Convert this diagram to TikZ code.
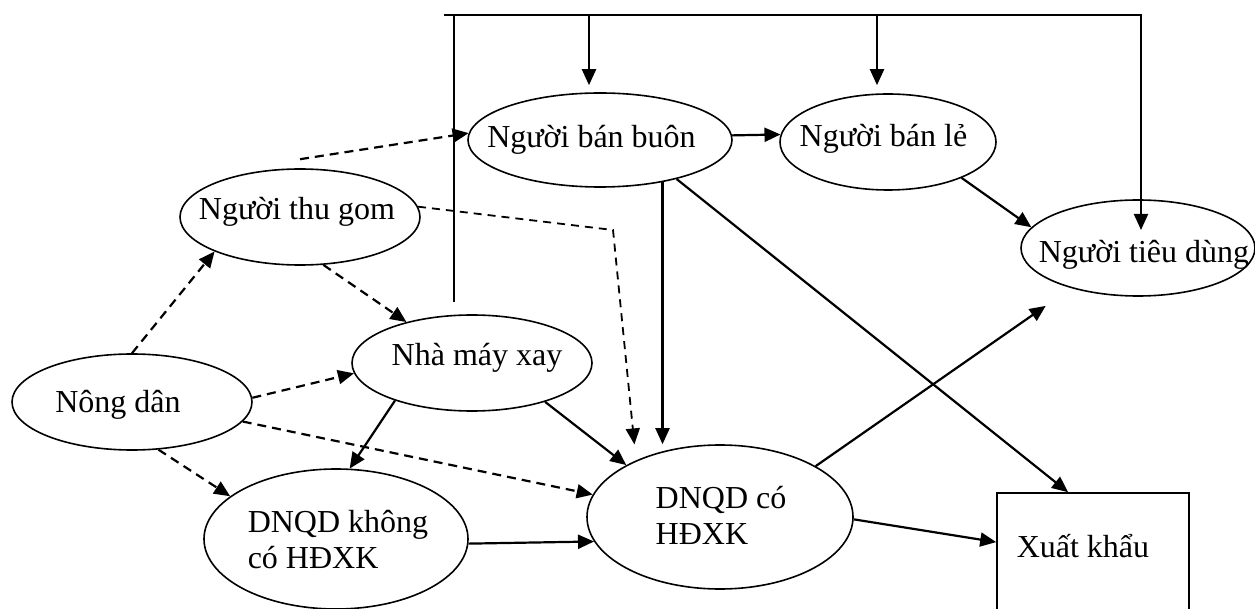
\documentclass[tikz,border=0pt]{standalone}
\usepackage{fontspec}
\setmainfont{Liberation Serif}
\usetikzlibrary{shapes.geometric,arrows.meta}
\newcommand\mytxt[3]{\makebox[0pt]{\hspace*{#1}\raisebox{#2}{#3}}}
\begin{document}
\begin{tikzpicture}[x=1pt,y=-1pt,
  every node/.style={font=\fontsize{32}{36.5}\selectfont, inner sep=0pt, text height=22pt, text depth=7pt},
  ell/.style={ellipse, draw, line width=1.6pt},
  mybox/.style={rectangle, draw, line width=1.6pt},
  arr/.style={-{Triangle[length=16pt,width=14pt]}},
  sol/.style={arr, line width=2.2pt},
  dsh/.style={arr, line width=2.2pt, dash pattern=on 9pt off 6pt},
  dshthin/.style={arr, line width=1.8pt, dash pattern=on 8pt off 6pt},
  myframe/.style={line width=2pt}]

\useasboundingbox (0,0) rectangle (1255,609);

% nodes
\node[ell, minimum width=240pt, minimum height=96pt] (nd) at (132,402) {\mytxt{-28pt}{-2.5pt}{Nông dân}};
\node[ell, minimum width=240pt, minimum height=96pt] (tg) at (300,217) {\mytxt{-6pt}{4.5pt}{Người thu gom}};
\node[ell, minimum width=240pt, minimum height=96pt] (nm) at (472,363) {\mytxt{10pt}{5.5pt}{Nhà máy xay}};
\node[ell, minimum width=264pt, minimum height=94pt] (bb) at (600,140) {\mytxt{-17pt}{-0.5pt}{Người bán buôn}};
\node[ell, minimum width=216pt, minimum height=96pt] (bl) at (888,142) {\mytxt{-9pt}{2.5pt}{Người bán lẻ}};
\node[ell, minimum width=234pt, minimum height=96pt] (td) at (1138,248) {\mytxt{12pt}{-7.5pt}{Người tiêu dùng}};
\node[ell, minimum width=264pt, minimum height=140pt] (k) at (336,539) {\mytxt{4pt}{14.5pt}{\begin{tabular}[t]{@{}l@{}}DNQD không\\có HĐXK\end{tabular}}};
\node[ell, minimum width=266pt, minimum height=144pt] (c) at (720,517) {\mytxt{2pt}{16.5pt}{\begin{tabular}[t]{@{}l@{}}DNQD có\\HĐXK\end{tabular}}};
\node[mybox, minimum width=192pt, minimum height=122pt] (xk) at (1093,554) {\mytxt{-20pt}{4.5pt}{Xuất khẩu}};

% coordinates of the top distribution line
\coordinate (tl) at (444,15);
\coordinate (vt) at (454,15);
\coordinate (a1) at (589,15);
\coordinate (a2) at (877,15);
\coordinate (tr) at (1141,15);
\coordinate (bend) at (613,230);

% top line and drops
\draw[myframe, arr, shorten >=18pt] (tl) -- (tr) -- (tr |- td.center);
\draw[line width=1.6pt, shorten >=12pt] (vt) -- (vt |- nm.north);
\draw[sol, shorten >=7pt] (a1) -- (a1 |- bb.north);
\draw[sol, shorten >=8pt] (a2) -- (a2 |- bl.north);

% solid connectors
\draw[sol] (bb.2) -- (bl.176);
\draw[sol] (bl.-26) -- (td.169);
\draw[sol] (bb.-34.5) -- (bb.-34.5 |- c.north);
\draw[sol] (bb.-27) -- (xk.112.6);
\draw[sol] (nm.206) -- (k.79);
\draw[sol] (nm.-28) -- (c.151);
\draw[sol] (k.-2) -- (c.191);
\draw[sol, shorten >=31pt] (c.28) -- (td.211);
\draw[sol] (c.-1) -- (xk.173.5);

% dashed connectors
\draw[dsh] (nd.north) -- (tg.202);
\draw[dsh] (tg.296) -- (nm.148);
\draw[dsh] (nd.2) -- (nm.185);
\draw[dsh] (nd.-10) -- (c.170);
\draw[dsh] (nd.299) -- (k.158);
\draw[dsh] ([yshift=9pt]tg.north) -- (bb.177);
\draw[dshthin, shorten >=16pt] (tg.5) -- (bend) -- (c.146);
\end{tikzpicture}
\end{document}
